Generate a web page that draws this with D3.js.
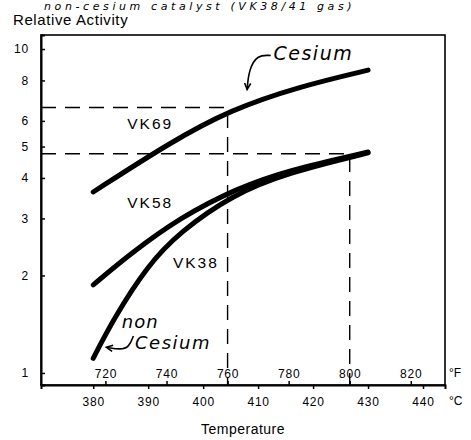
<!DOCTYPE html>
<html>
<head>
<meta charset="utf-8">
<script src="https://cdn.jsdelivr.net/npm/d3@7"></script>
<style>
  body { margin: 0; background: #fff; }
  svg { display: block; font-family: "Liberation Sans", Arial, sans-serif; }
  .hand { font-family: "DejaVu Sans", sans-serif; font-style: italic; }
</style>
</head>
<body>
<div id="chart"></div>
<script>
    var width = 471,
        height = 440;

    // temperatures in deg C, relative activity (log scale)
    var vk69Temp = [380, 394, 404.9, 417.6, 430];
    var vk69Act  = [3.62, 5.15, 6.49, 7.67, 8.61];

    var vk58Temp = [380, 386.7, 395.8, 406.2, 415.3, 430];
    var vk58Act  = [1.87, 2.33, 3.02, 3.72, 4.22, 4.81];

    var vk38Temp = [380, 383.6, 389.8, 395.8, 405.5, 415.3, 430];
    var vk38Act  = [1.11, 1.46, 2.14, 2.73, 3.56, 4.15, 4.78];

    var yTicks = [1, 2, 3, 4, 5, 6, 8, 10];
    var cTicks = [380, 390, 400, 410, 420, 430, 440];
    var fTicks = [720, 740, 760, 780, 800, 820];

    // reference lines: [deg F, activity]
    var refLines = [[760, 6.6], [800, 4.75]];

    function fToC(f){ return (f - 32) * 5 / 9; }

    var x = d3.scaleLinear().domain([370.5, 444]).range([41, 445]);
    var y = d3.scaleLog().domain([0.918, 11.05]).range([385, 35]);

    var svg = d3.select('#chart').append('svg')
        .attr('width', width)
        .attr('height', height);

    // handwritten heading (cropped in the scan)
    svg.append('text')
        .attr('class', 'hand')
        .attr('x', 44).attr('y', 10)
        .style('font-size', '11px')
        .style('letter-spacing', '3.6px')
        .text('non-cesium catalyst (VK38/41 gas)');

    svg.append('text')
        .attr('x', 13).attr('y', 25)
        .style('font-size', '15px')
        .style('letter-spacing', '0.6px')
        .text('Relative Activity');

    // frame
    svg.append('rect')
        .attr('x', x.range()[0]).attr('y', y.range()[1])
        .attr('width', x.range()[1] - x.range()[0])
        .attr('height', y.range()[0] - y.range()[1])
        .attr('fill', 'none')
        .attr('stroke', '#000')
        .attr('stroke-width', 1.6);

    // y axis
    var yAxis = svg.append('g')
        .attr('transform', 'translate(' + x.range()[0] + ',0)')
        .call(d3.axisLeft(y).tickValues(yTicks).tickFormat(d3.format('d'))
            .tickSize(-4).tickPadding(12));
    yAxis.select('.domain').attr('stroke-width', 2);

    // deg C below
    var cAxis = svg.append('g')
        .attr('transform', 'translate(0,' + y.range()[0] + ')')
        .call(d3.axisBottom(x).tickValues(cTicks).tickSize(4).tickPadding(8));
    cAxis.select('.domain').attr('stroke-width', 2);

    // deg F inside, above the axis line
    var fAxis = svg.append('g')
        .attr('transform', 'translate(0,' + y.range()[0] + ')')
        .call(d3.axisTop(x).tickValues(fTicks.map(fToC))
            .tickFormat(function(d){ return Math.round(d * 9 / 5 + 32); })
            .tickSize(4).tickPadding(3));
    fAxis.select('.domain').remove();

    svg.selectAll('.tick text')
        .style('font-size', '12px')
        .style('letter-spacing', '0.8px')
        .attr('fill', '#000');
    svg.selectAll('.tick line').attr('stroke-width', 1.5);

    svg.append('text')
        .attr('x', 449).attr('y', 377)
        .style('font-size', '12px')
        .text('°F');
    svg.append('text')
        .attr('x', 449).attr('y', 405)
        .style('font-size', '12px')
        .text('°C');

    svg.append('text')
        .attr('x', 243).attr('y', 434)
        .attr('text-anchor', 'middle')
        .style('font-size', '14px')
        .style('letter-spacing', '0.5px')
        .text('Temperature');

    // dashed guides
    var guides = svg.append('g')
        .attr('stroke', '#000')
        .attr('stroke-width', 1.4)
        .attr('stroke-dasharray', '15,9')
        .attr('fill', 'none');
    refLines.forEach(function(r){
        var cx = x(fToC(r[0]));
        guides.append('path')
            .attr('d', 'M' + x.range()[0] + ',' + y(r[1]) + 'H' + cx + 'V' + y.range()[0]);
    });

    // curves
    var line = d3.line()
        .x(function(d){ return x(d[0]); })
        .y(function(d){ return y(d[1]); })
        .curve(d3.curveBasis);

    [[vk69Temp, vk69Act], [vk58Temp, vk58Act], [vk38Temp, vk38Act]].forEach(function(s){
        svg.append('path')
            .datum(d3.zip(s[0], s[1]))
            .attr('d', line)
            .attr('fill', 'none')
            .attr('stroke', '#000')
            .attr('stroke-width', 5)
            .attr('stroke-linecap', 'round');
    });

    // curve labels [deg C, activity, text]
    var labels = [[386.2, 5.66, 'VK69'], [386.2, 3.23, 'VK58'], [394.5, 2.11, 'VK38']];
    svg.selectAll('.lbl')
        .data(labels)
        .enter().append('text')
        .attr('class', 'lbl')
        .attr('x', function(d){ return x(d[0]); })
        .attr('y', function(d){ return y(d[1]); })
        .style('font-size', '15.5px')
        .style('letter-spacing', '2px')
        .text(function(d){ return d[2]; });

    // handwritten notes and arrows
    svg.append('text')
        .attr('class', 'hand')
        .attr('x', x(412.8)).attr('y', y(9.25))
        .style('font-size', '19px')
        .style('letter-spacing', '1.5px')
        .text('Cesium');
    svg.append('text')
        .attr('class', 'hand')
        .attr('x', x(385.2)).attr('y', y(1.377))
        .style('font-size', '18px')
        .style('letter-spacing', '1px')
        .text('non');
    svg.append('text')
        .attr('class', 'hand')
        .attr('x', x(387.6)).attr('y', y(1.185))
        .style('font-size', '18px')
        .style('letter-spacing', '1.5px')
        .text('Cesium');

    var arrowLine = d3.line()
        .x(function(d){ return x(d[0]); })
        .y(function(d){ return y(d[1]); })
        .curve(d3.curveBasis);

    // [deg C, activity]
    var cesArrow = [[412.3, 9.55], [409.8, 9.6], [408.3, 8.6], [408.0, 7.5]];
    var nonArrow = [[387.3, 1.3], [386.5, 1.2], [385, 1.18], [382.4, 1.2]];

    [cesArrow, nonArrow].forEach(function(a){
        svg.append('path')
            .datum(a)
            .attr('d', arrowLine)
            .attr('fill', 'none')
            .attr('stroke', '#000')
            .attr('stroke-width', 1.6);
        var p = a[a.length - 1], q = a[a.length - 2];
        var px = x(p[0]), py = y(p[1]);
        var ang = Math.atan2(py - y(q[1]), px - x(q[0]));
        var s = 7;
        svg.append('path')
            .attr('d', 'M' + (px - s * Math.cos(ang - 0.45)) + ',' + (py - s * Math.sin(ang - 0.45)) +
                'L' + px + ',' + py +
                'L' + (px - s * Math.cos(ang + 0.45)) + ',' + (py - s * Math.sin(ang + 0.45)))
            .attr('fill', 'none')
            .attr('stroke', '#000')
            .attr('stroke-width', 1.6);
    });
</script>
</body>
</html>
